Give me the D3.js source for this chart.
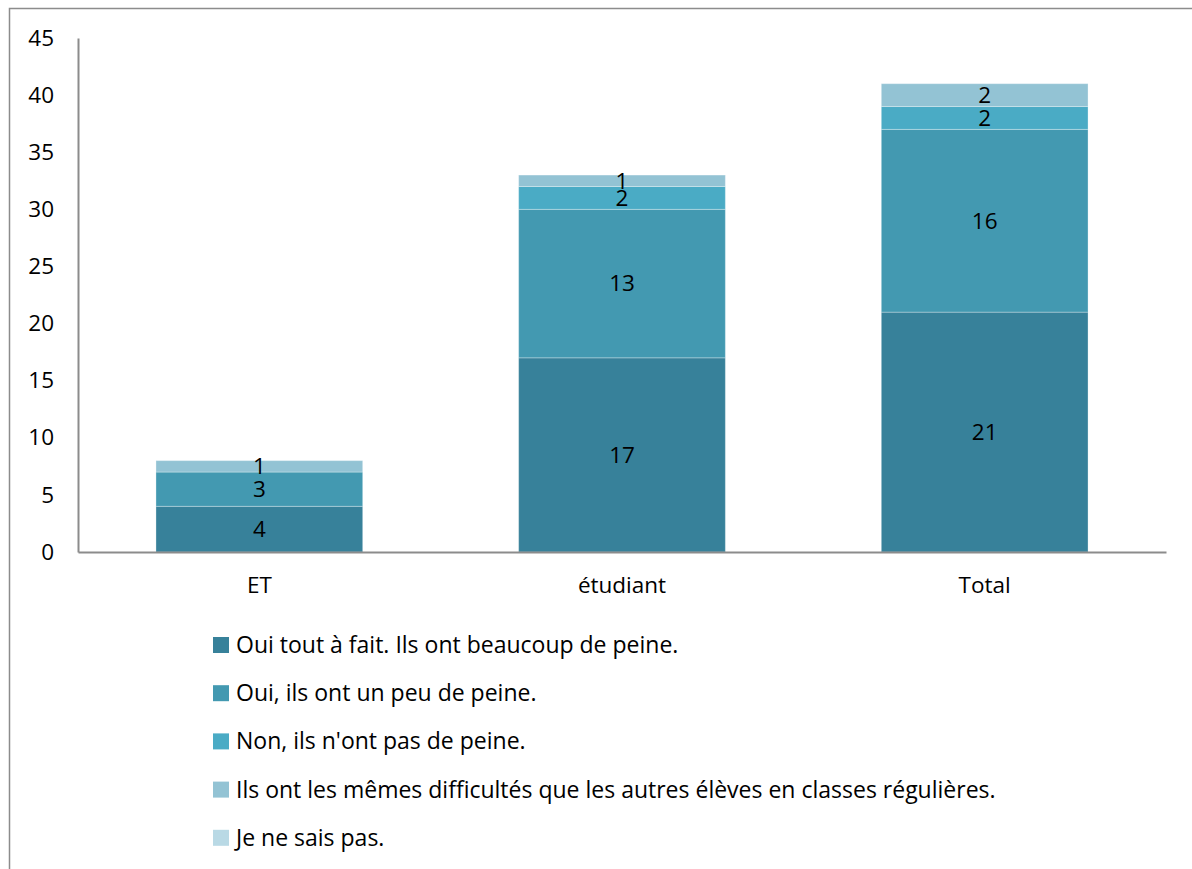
<!DOCTYPE html>
<html><head><meta charset="utf-8">
<script src="https://cdn.jsdelivr.net/npm/d3@7"></script>
<style>body{margin:0;background:#fff}svg{display:block;font-family:"Open Sans",sans-serif}</style>
</head><body><svg id="c" width="1192" height="869"></svg>
<script>
const categories = ["ET", "étudiant", "Total"];
const seriesNames = [
  "Oui tout à fait. Ils ont beaucoup de peine.",
  "Oui, ils ont un peu de peine.",
  "Non, ils n'ont pas de peine.",
  "Ils ont les mêmes difficultés que les autres élèves en classes régulières.",
  "Je ne sais pas."
];
const s1 = [4, 17, 21];
const s2 = [3, 13, 16];
const s3 = [0, 2, 2];
const s4 = [1, 1, 2];
const s5 = [0, 0, 0];
const yTicks = [0, 5, 10, 15, 20, 25, 30, 35, 40, 45];
const colors = ["#37819a", "#4399b1", "#4aabc5", "#93c3d4", "#b9d9e5"];

const FS = 22.5;
const svg = d3.select("#c");
const mLeft = 78, mRight = 1166, mTop = 38, mBottom = 552;

svg.append("rect").attr("x", 9.5).attr("y", 8.5).attr("width", 1200).attr("height", 900)
  .attr("fill", "none").attr("stroke", "#8c8c8c").attr("stroke-width", 1.5);

const rows = categories.map((c, i) => ({cat: c, s0: s1[i], s1: s2[i], s2: s3[i], s3: s4[i], s4: s5[i]}));
const keys = ["s0", "s1", "s2", "s3", "s4"];
const stack = d3.stack().keys(keys)(rows);

const x = d3.scaleBand().domain(categories).range([mLeft, mRight]).paddingInner(0.43).paddingOuter(0.215);
const y = d3.scaleLinear().domain([0, 45]).range([mBottom, mTop]);

const g = svg.append("g");
stack.forEach((layer, li) => {
  g.selectAll(null).data(layer).enter().append("rect")
    .attr("x", d => x(d.data.cat))
    .attr("width", x.bandwidth())
    .attr("y", d => y(d[1]))
    .attr("height", d => y(d[0]) - y(d[1]))
    .attr("fill", colors[li])
    .attr("stroke", "rgba(255,255,255,0.3)").attr("stroke-width", 1);
});
stack.forEach((layer, li) => {
  g.selectAll(null).data(layer.filter(d => d[1] - d[0] > 0)).enter().append("text")
    .attr("x", d => x(d.data.cat) + x.bandwidth() / 2)
    .attr("y", d => (y(d[0]) + y(d[1])) / 2)
    .attr("dy", "0.35em")
    .attr("text-anchor", "middle")
    .attr("font-size", FS).attr("fill", "#000")
    .text(d => d[1] - d[0]);
});

const yAxis = svg.append("g").attr("transform", `translate(${mLeft},0)`)
  .call(d3.axisLeft(y).tickValues(yTicks).tickSize(0).tickPadding(24));
yAxis.select(".domain").attr("stroke", "#8c8c8c").attr("stroke-width", 2);
yAxis.selectAll("text").attr("font-size", FS).attr("fill", "#000").attr("font-family", "Open Sans");

const xAxis = svg.append("g").attr("transform", `translate(0,${mBottom})`)
  .call(d3.axisBottom(x).tickSize(0).tickPadding(25));
xAxis.select(".domain").attr("stroke", "#8c8c8c").attr("stroke-width", 2);
xAxis.selectAll("text").attr("font-size", FS).attr("fill", "#000").attr("font-family", "Open Sans");

const leg = svg.append("g");
seriesNames.forEach((n, i) => {
  const yy = 645 + i * 48.2;
  leg.append("rect").attr("x", 213).attr("y", yy - 8).attr("width", 16).attr("height", 16).attr("fill", colors[i]);
  leg.append("text").attr("x", 236).attr("y", yy).attr("dy", "0.35em")
    .attr("font-size", 23).attr("fill", "#000").text(n);
});
</script></body></html>
